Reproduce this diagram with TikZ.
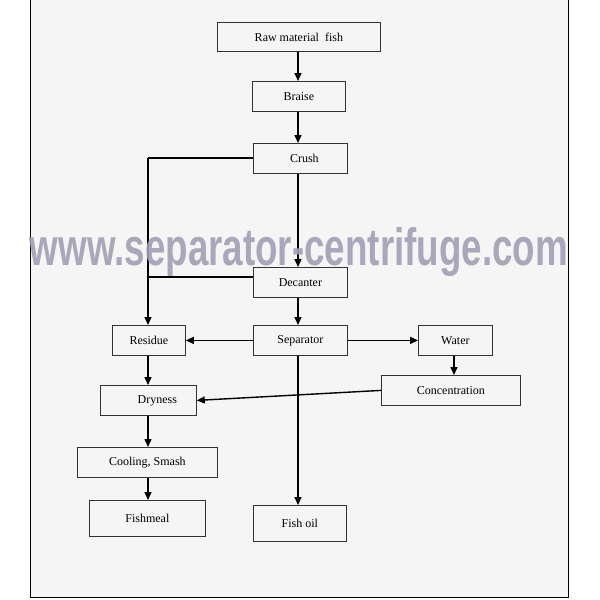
\documentclass[tikz,border=0pt]{standalone}
\usepackage{fontspec}
\setmainfont{Liberation Serif}
\newfontfamily\wmfont{Liberation Sans}
\usetikzlibrary{arrows.meta}
\definecolor{wmcol}{RGB}{160,160,180}
\begin{document}
\begin{tikzpicture}[x=1pt,y=-1pt,
  box/.style={draw=black!80,line width=0.8pt,fill=white!96!black,anchor=north west,inner sep=0pt,font=\fontsize{12}{14}\selectfont},
  arr/.style={line width=1.4pt,-{Triangle[length=8pt,width=7pt]}},
  ln/.style={line width=1.4pt}]
\useasboundingbox (0,0) rectangle (600,600);
\fill[white] (0,0) rectangle (600,600);
\fill[black!4] (30,0) rectangle (568,597);
\draw[line width=1pt] (30,0) -- (30,597) -- (568,597) -- (568,0);
\node[box,minimum width=163pt,minimum height=29pt] (raw) at (217,22) {Raw material\ \ fish};
\node[box,minimum width=93pt,minimum height=30pt] (braise) at (252,81) {Braise};
\node[box,minimum width=94pt,minimum height=30pt] (crush) at (253,143) {\hspace*{8pt}Crush};
\node[box,minimum width=94pt,minimum height=30pt] (dec) at (253,267) {Decanter};
\node[box,minimum width=73pt,minimum height=30pt] (res) at (112,325) {Residue};
\node[box,minimum width=94pt,minimum height=30pt] (sep) at (253,325) {Separator};
\node[box,minimum width=74pt,minimum height=30pt] (water) at (418,325) {Water};
\node[box,minimum width=139pt,minimum height=30pt] (conc) at (381,375) {Concentration};
\node[box,minimum width=96pt,minimum height=30pt] (dry) at (100,385) {\hspace*{18pt}Dryness};
\node[box,minimum width=140pt,minimum height=30pt] (cool) at (77,447) {Cooling, Smash};
\node[box,minimum width=116pt,minimum height=36pt] (meal) at (89,500) {Fishmeal};
\node[box,minimum width=93pt,minimum height=36pt] (oil) at (253,505) {Fish oil};
\coordinate (c1) at (148,158);
\coordinate (c2) at (148,277);
\draw[arr] (raw.south -| 298,0) -- (braise.north -| 298,0);
\draw[arr] (braise.south -| 298,0) -- (crush.north -| 298,0);
\draw[arr] (crush.south -| 298,0) -- (dec.north -| 298,0);
\draw[arr] (dec.south -| 298,0) -- (sep.north -| 298,0);
\draw[ln] (crush.west |- c1) -- (c1);
\draw[arr] (c1) -- (res.north -| c1);
\draw[ln] (dec.west |- c2) -- (c2);
\draw[arr] (sep.west) -- (res.east);
\draw[arr] (sep.east) -- (water.west);
\draw[arr] (water.south -| 454,0) -- (conc.north -| 454,0);
\draw[arr] (conc.west) -- (dry.east);
\draw[arr] (res.south -| c1) -- (dry.north -| c1);
\draw[arr] (dry.south -| c1) -- (cool.north -| c1);
\draw[arr] (cool.south -| c1) -- (meal.north -| c1);
\draw[arr] (sep.south -| 298,0) -- (oil.north -| 298,0);
\node[inner sep=0pt,text=wmcol,text opacity=0.9] (wm) at (299,252) {\resizebox{538pt}{38pt}{\wmfont\bfseries www.separator-centrifuge.com}};
\end{tikzpicture}
\end{document}
